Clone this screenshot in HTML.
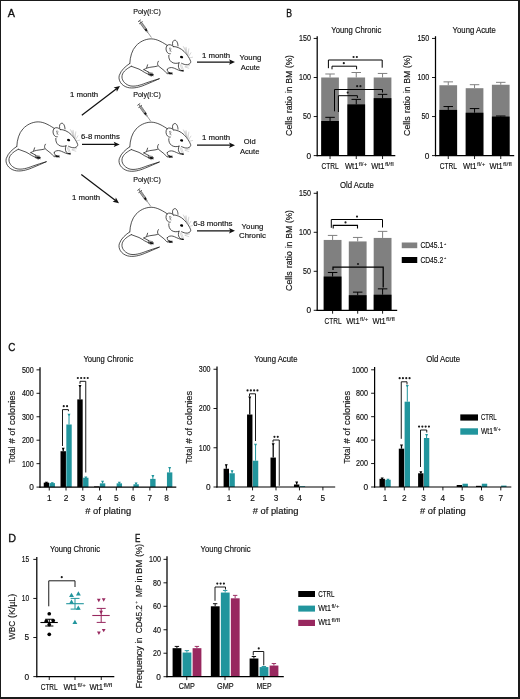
<!DOCTYPE html>
<html><head><meta charset="utf-8"><title>Figure</title>
<style>
html,body{margin:0;padding:0;background:#fff;}
body{width:520px;height:699px;overflow:hidden;position:relative;font-family:"Liberation Sans",sans-serif;}
svg{position:absolute;left:0;top:0;display:block;will-change:transform;font-family:"Liberation Sans",sans-serif;}
text{stroke:#111;stroke-width:0.16px;}
.bd{position:absolute;background:#1a1a1a;}
</style></head><body>
<svg width="520" height="699" viewBox="0 0 520 699">
<text x="7.8" y="16.9" font-size="11.3" textLength="7.2" lengthAdjust="spacingAndGlyphs" fill="#111" style="stroke-width:0.35px">A</text>
<text x="286.3" y="16.7" font-size="11.3" textLength="5.8" lengthAdjust="spacingAndGlyphs" fill="#111" style="stroke-width:0.35px">B</text>
<text x="8.3" y="351.0" font-size="11.3" textLength="7.1" lengthAdjust="spacingAndGlyphs" fill="#111" style="stroke-width:0.35px">C</text>
<text x="8.3" y="541.6" font-size="11.3" textLength="7.8" lengthAdjust="spacingAndGlyphs" fill="#111" style="stroke-width:0.35px">D</text>
<text x="135.1" y="541.5" font-size="11.3" textLength="5.4" lengthAdjust="spacingAndGlyphs" fill="#111" style="stroke-width:0.35px">E</text>
<defs>
<g id="mouse" fill="none" stroke="#151515" stroke-width="0.74" stroke-linecap="round" stroke-linejoin="round">
<path d="M16.8,146.5 C17,140 19,133 23,128.8 C27,124.5 32,122.3 37,121.9 C42,121.6 47,123.5 54.2,128.4"/>
<path d="M60.4,129.5 C58.5,127.4 55.5,127.2 54.2,128.4 C52.5,130 52.6,134 54.6,135.8 C55.5,136.7 56.5,137 57.3,136.8"/>
<path d="M59.7,128.2 C58.9,125.5 60,123.3 61.8,123.2 C63.6,123.1 65,126 65,128.9"/>
<path d="M60.4,129.5 C64,129.5 68,131.5 71,134.4 C74,137.5 76.5,141 77.7,144.4 C78,145.6 77,147.2 74.6,147.7 C72,148 70.3,147 68.6,146.3"/>
<path d="M55.8,138.4 C55.5,141 56.5,143.5 58.5,145 C60.5,146.5 63.5,146.8 66.2,145.8"/>
<path d="M65.9,146 C65.1,148 65.2,150.2 66.2,152 L68,153.5"/>
<path d="M54.2,152.3 C55.5,150.5 58,150.3 60,150.8 C62,151.3 64.5,153 67.5,153.8"/>
<path d="M45.4,144.2 C44.3,145.8 44.3,147.5 45.2,148.8 L51.5,153.8 C52.5,155 53,156 54.4,156.7"/>
<path d="M54.2,152.3 C54,154 55,155.3 56.6,155.6"/>
<path d="M30.8,152.6 C33,151.2 36,150.3 39,150 C41,149.8 43,149.5 44.4,149.1"/>
<path d="M34.6,147.8 L33.7,150.7"/>
<path d="M18.3,149.25 L26,152.1 C28,153 30,154.5 31.7,155.5 L35.6,157.4"/>
<path d="M30.8,152.6 L35.8,155.2"/>
<path d="M16.6,146.6 C13,149 8,153 6.3,158.4 C5,163 8,168.5 14.4,170.4 C20,172 27,170 31.7,168 C37,166 42,163.5 46.2,161.75"/>
<path d="M18.3,149.25 C15,151 10,154 9.1,158.4 C8.3,162.5 11,166.5 15.9,168.5 C21,170.3 28,168 32.7,166.1 C37,164.5 42,163 46.2,161.75"/>
<g stroke="#9a9a9a" stroke-width="0.4">
<path d="M74.2,138 L70.4,129.6 M74.6,138.3 L73.1,130.3 M75,138.8 L75.8,131.8 M75.6,139.6 L77.9,135.8 M76.3,141 L79.6,140.2 M74,137.5 L72,131"/>
<path d="M72.3,149.6 L76.6,148.6 M72,150 L75.8,151.2"/>
<path d="M67,147.3 L69.2,153 M68.5,147.7 L70.4,152.7"/>
</g>
<path d="M56.6,131.2 C57.6,130.6 58.6,131.4 58,132.4 L57,133.2 L58.3,134.4 M56.6,131.2 L57.2,134.4" stroke="#444" stroke-width="0.45"/>
<ellipse cx="68.6" cy="140.1" rx="1.6" ry="1.2" fill="#000" stroke="none" transform="rotate(15 68.6 140.1)"/>
<ellipse cx="69.3" cy="153.8" rx="1.7" ry="0.75" fill="#111" stroke="none" transform="rotate(8 69.3 153.8)"/>
<ellipse cx="57.4" cy="156.5" rx="2.1" ry="0.8" fill="#111" stroke="none" transform="rotate(-5 57.4 156.5)"/>
<ellipse cx="38.4" cy="157.7" rx="2.2" ry="0.95" fill="#111" stroke="none" transform="rotate(8 38.4 157.7)"/>
<path d="M35.2,155.4 L39.6,156.2 M35.4,156.3 L40.6,157.4 M35.4,157.2 L40.2,158.8 M35.2,157.6 L38.4,159.3" stroke-width="0.5"/>
<path d="M55,155.4 L59.4,155.8 M54.6,156.2 L59.6,157.2" stroke-width="0.5"/>
</g>

<g id="syr"><g transform="translate(139.3 20.2) rotate(54.46)">
<line x1="0.3" y1="-1.7" x2="0.3" y2="1.7" stroke="#333" stroke-width="0.75"/>
<line x1="0.3" y1="0" x2="3" y2="0" stroke="#444" stroke-width="0.6"/>
<line x1="2.7" y1="-2.1" x2="2.7" y2="2.1" stroke="#333" stroke-width="0.75"/>
<rect x="2.9" y="-0.95" width="8.2" height="1.9" fill="#c4c4c4" stroke="#3a3a3a" stroke-width="0.5"/>
<path d="M4.2,-0.9V0.9M5.4,-0.9V0.9M6.6,-0.9V0.9M7.8,-0.9V0.9M9,-0.9V0.9M10.2,-0.9V0.9" stroke="#555" stroke-width="0.4"/>
<rect x="10.6" y="-1.05" width="2.3" height="2.1" fill="#111"/>
<rect x="12.9" y="-0.55" width="1.6" height="1.1" fill="#999" stroke="#555" stroke-width="0.3"/>
<line x1="14.3" y1="0" x2="20.9" y2="0" stroke="#555" stroke-width="0.55"/>
</g></g>
</defs>
<use href="#mouse"/>
<use href="#mouse" transform="translate(113 -83.0)"/>
<use href="#mouse" transform="translate(113 0.3)"/>
<use href="#mouse" transform="translate(113 85.4)"/>
<use href="#syr" transform="translate(0 0.3)"/>
<text x="133.2" y="14.1" font-size="8.0" textLength="27.6" lengthAdjust="spacingAndGlyphs" fill="#111">Poly(I:C)</text>
<use href="#syr" transform="translate(-0.7 84.0)"/>
<text x="133.2" y="97.3" font-size="8.0" textLength="27.6" lengthAdjust="spacingAndGlyphs" fill="#111">Poly(I:C)</text>
<use href="#syr" transform="translate(-0.7 169.1)"/>
<text x="133.2" y="182.3" font-size="8.0" textLength="27.6" lengthAdjust="spacingAndGlyphs" fill="#111">Poly(I:C)</text>
<line x1="81.80" y1="115.30" x2="116.51" y2="88.68" stroke="#111" stroke-width="1.25" stroke-linecap="butt"/>
<polygon points="120.00,86.00 116.88,91.79 116.27,88.86 113.60,87.51" fill="#111"/>
<line x1="82.00" y1="144.40" x2="115.30" y2="144.40" stroke="#111" stroke-width="1.25" stroke-linecap="butt"/>
<polygon points="119.70,144.40 113.70,147.10 115.00,144.40 113.70,141.70" fill="#111"/>
<line x1="81.30" y1="174.50" x2="115.50" y2="200.53" stroke="#111" stroke-width="1.25" stroke-linecap="butt"/>
<polygon points="119.00,203.20 112.59,201.71 115.26,200.35 115.86,197.42" fill="#111"/>
<text x="70" y="96.9" font-size="8.0" textLength="28.2" lengthAdjust="spacingAndGlyphs" fill="#111">1 month</text>
<text x="81.0" y="139.2" font-size="8.0" textLength="38.8" lengthAdjust="spacingAndGlyphs" fill="#111">6-8 months</text>
<text x="72" y="200.4" font-size="8.0" textLength="28.2" lengthAdjust="spacingAndGlyphs" fill="#111">1 month</text>
<line x1="197.00" y1="62.00" x2="230.60" y2="62.00" stroke="#111" stroke-width="1.25" stroke-linecap="butt"/>
<polygon points="235.00,62.00 229.00,64.70 230.30,62.00 229.00,59.30" fill="#111"/>
<line x1="197.00" y1="145.20" x2="230.60" y2="145.20" stroke="#111" stroke-width="1.25" stroke-linecap="butt"/>
<polygon points="235.00,145.20 229.00,147.90 230.30,145.20 229.00,142.50" fill="#111"/>
<line x1="197.00" y1="230.80" x2="230.60" y2="230.80" stroke="#111" stroke-width="1.25" stroke-linecap="butt"/>
<polygon points="235.00,230.80 229.00,233.50 230.30,230.80 229.00,228.10" fill="#111"/>
<text x="202" y="58" font-size="8.0" textLength="28.2" lengthAdjust="spacingAndGlyphs" fill="#111">1 month</text>
<text x="202" y="139.6" font-size="8.0" textLength="28.2" lengthAdjust="spacingAndGlyphs" fill="#111">1 month</text>
<text x="193.3" y="225.5" font-size="8.0" textLength="39.2" lengthAdjust="spacingAndGlyphs" fill="#111">6-8 months</text>
<text x="250.4" y="59.5" font-size="8.0" text-anchor="middle" textLength="21.8" lengthAdjust="spacingAndGlyphs" fill="#111">Young</text>
<text x="250.4" y="69.7" font-size="8.0" text-anchor="middle" textLength="19.4" lengthAdjust="spacingAndGlyphs" fill="#111">Acute</text>
<text x="249.7" y="144.3" font-size="8.0" text-anchor="middle" textLength="11.8" lengthAdjust="spacingAndGlyphs" fill="#111">Old</text>
<text x="249.7" y="153.8" font-size="8.0" text-anchor="middle" textLength="19.4" lengthAdjust="spacingAndGlyphs" fill="#111">Acute</text>
<text x="252.5" y="228.6" font-size="8.0" text-anchor="middle" textLength="21.8" lengthAdjust="spacingAndGlyphs" fill="#111">Young</text>
<text x="252.5" y="238.4" font-size="8.0" text-anchor="middle" textLength="27" lengthAdjust="spacingAndGlyphs" fill="#111">Chronic</text>
<line x1="330.05" y1="77.50" x2="330.05" y2="73.99" stroke="#808080" stroke-width="1.0" stroke-linecap="butt"/>
<line x1="325.30" y1="73.99" x2="334.80" y2="73.99" stroke="#808080" stroke-width="1.0" stroke-linecap="butt"/>
<rect x="321.20" y="77.50" width="17.70" height="78.10" fill="#808080"/>
<rect x="321.20" y="121.00" width="17.70" height="34.60" fill="#000"/>
<line x1="330.05" y1="121.00" x2="330.05" y2="117.33" stroke="#000" stroke-width="1.0" stroke-linecap="butt"/>
<line x1="325.30" y1="117.33" x2="334.80" y2="117.33" stroke="#000" stroke-width="1.0" stroke-linecap="butt"/>
<line x1="330.05" y1="155.60" x2="330.05" y2="159.00" stroke="#000" stroke-width="0.9" stroke-linecap="butt"/>
<line x1="356.25" y1="77.50" x2="356.25" y2="72.50" stroke="#808080" stroke-width="1.0" stroke-linecap="butt"/>
<line x1="351.50" y1="72.50" x2="361.00" y2="72.50" stroke="#808080" stroke-width="1.0" stroke-linecap="butt"/>
<rect x="347.40" y="77.50" width="17.70" height="78.10" fill="#808080"/>
<rect x="347.40" y="104.37" width="17.70" height="51.23" fill="#000"/>
<line x1="356.25" y1="104.37" x2="356.25" y2="99.37" stroke="#000" stroke-width="1.0" stroke-linecap="butt"/>
<line x1="351.50" y1="99.37" x2="361.00" y2="99.37" stroke="#000" stroke-width="1.0" stroke-linecap="butt"/>
<line x1="356.25" y1="155.60" x2="356.25" y2="159.00" stroke="#000" stroke-width="0.9" stroke-linecap="butt"/>
<line x1="382.55" y1="77.50" x2="382.55" y2="73.44" stroke="#808080" stroke-width="1.0" stroke-linecap="butt"/>
<line x1="377.80" y1="73.44" x2="387.30" y2="73.44" stroke="#808080" stroke-width="1.0" stroke-linecap="butt"/>
<rect x="373.70" y="77.50" width="17.70" height="78.10" fill="#808080"/>
<rect x="373.70" y="98.12" width="17.70" height="57.48" fill="#000"/>
<line x1="382.55" y1="98.12" x2="382.55" y2="94.37" stroke="#000" stroke-width="1.0" stroke-linecap="butt"/>
<line x1="377.80" y1="94.37" x2="387.30" y2="94.37" stroke="#000" stroke-width="1.0" stroke-linecap="butt"/>
<line x1="382.55" y1="155.60" x2="382.55" y2="159.00" stroke="#000" stroke-width="0.9" stroke-linecap="butt"/>
<line x1="316.60" y1="155.60" x2="395.30" y2="155.60" stroke="#000" stroke-width="1.2" stroke-linecap="butt"/>
<line x1="317.20" y1="36.20" x2="317.20" y2="156.20" stroke="#000" stroke-width="1.25" stroke-linecap="butt"/>
<line x1="313.70" y1="38.45" x2="317.20" y2="38.45" stroke="#000" stroke-width="0.9" stroke-linecap="butt"/>
<text x="311.0" y="41.34999999999999" font-size="8.3" text-anchor="end" textLength="11.9" lengthAdjust="spacingAndGlyphs" fill="#111">150</text>
<line x1="313.70" y1="77.50" x2="317.20" y2="77.50" stroke="#000" stroke-width="0.9" stroke-linecap="butt"/>
<text x="311.0" y="80.4" font-size="8.3" text-anchor="end" textLength="11.9" lengthAdjust="spacingAndGlyphs" fill="#111">100</text>
<line x1="313.70" y1="116.55" x2="317.20" y2="116.55" stroke="#000" stroke-width="0.9" stroke-linecap="butt"/>
<text x="311.0" y="119.45" font-size="8.3" text-anchor="end" textLength="7.9" lengthAdjust="spacingAndGlyphs" fill="#111">50</text>
<line x1="313.70" y1="155.60" x2="317.20" y2="155.60" stroke="#000" stroke-width="0.9" stroke-linecap="butt"/>
<text x="311.0" y="158.5" font-size="8.3" text-anchor="end" fill="#111">0</text>
<text x="356.3" y="33.4" font-size="8.3" text-anchor="middle" textLength="50" lengthAdjust="spacingAndGlyphs" fill="#111">Young Chronic</text>
<text x="292.2" y="136.0" font-size="9.1" fill="#111" textLength="19.7" lengthAdjust="spacingAndGlyphs" transform="rotate(-90 292.2 136.0)">Cells</text>
<text x="292.2" y="113.1" font-size="9.1" fill="#111" textLength="16.8" lengthAdjust="spacingAndGlyphs" transform="rotate(-90 292.2 113.1)">ratio</text>
<text x="292.2" y="93.1" font-size="9.1" fill="#111" textLength="6.4" lengthAdjust="spacingAndGlyphs" transform="rotate(-90 292.2 93.1)">in</text>
<text x="292.2" y="83.7" font-size="9.1" fill="#111" textLength="13.1" lengthAdjust="spacingAndGlyphs" transform="rotate(-90 292.2 83.7)">BM</text>
<text x="292.2" y="68.0" font-size="9.1" fill="#111" textLength="12.9" lengthAdjust="spacingAndGlyphs" transform="rotate(-90 292.2 68.0)">(%)</text>
<text x="321.5" y="168.7" font-size="8.3" textLength="17.2" lengthAdjust="spacingAndGlyphs" fill="#111">CTRL</text>
<text x="344.9" y="168.7" font-size="8.3" fill="#111" textLength="13.5" lengthAdjust="spacingAndGlyphs">Wt1</text>
<text x="358.79999999999995" y="165.7" font-size="4.9" fill="#222" style="stroke-width:0.08px" textLength="8.37" lengthAdjust="spacingAndGlyphs">fl/+</text>
<text x="371.2" y="168.7" font-size="8.3" fill="#111" textLength="13.3" lengthAdjust="spacingAndGlyphs">Wt1</text>
<text x="384.9" y="165.7" font-size="4.9" fill="#222" style="stroke-width:0.08px" textLength="8.78" lengthAdjust="spacingAndGlyphs">fl/fl</text>
<polyline points="328.40,68.20 328.40,60.00 382.20,60.00 382.20,67.70" fill="none" stroke="#000" stroke-width="1.0" stroke-linejoin="miter"/>
<circle cx="353.55" cy="57.00" r="1.08" fill="#1a1a1a"/>
<circle cx="356.85" cy="57.00" r="1.08" fill="#1a1a1a"/>
<polyline points="332.00,69.30 332.00,66.20 356.60,66.20 356.60,69.30" fill="none" stroke="#000" stroke-width="1.0" stroke-linejoin="miter"/>
<circle cx="343.80" cy="63.20" r="1.08" fill="#1a1a1a"/>
<polyline points="334.50,111.30 334.50,89.50 382.50,89.50 382.50,92.50" fill="none" stroke="#000" stroke-width="1.0" stroke-linejoin="miter"/>
<circle cx="357.15" cy="86.20" r="1.08" fill="#1a1a1a"/>
<circle cx="360.45" cy="86.20" r="1.08" fill="#1a1a1a"/>
<polyline points="338.40,112.00 338.40,95.70 357.40,95.70 357.40,98.00" fill="none" stroke="#000" stroke-width="1.0" stroke-linejoin="miter"/>
<circle cx="347.70" cy="92.60" r="1.08" fill="#1a1a1a"/>
<line x1="448.25" y1="85.23" x2="448.25" y2="81.87" stroke="#808080" stroke-width="1.0" stroke-linecap="butt"/>
<line x1="443.50" y1="81.87" x2="453.00" y2="81.87" stroke="#808080" stroke-width="1.0" stroke-linecap="butt"/>
<rect x="439.40" y="85.23" width="17.70" height="70.37" fill="#808080"/>
<rect x="439.40" y="109.91" width="17.70" height="45.69" fill="#000"/>
<line x1="448.25" y1="109.91" x2="448.25" y2="106.55" stroke="#000" stroke-width="1.0" stroke-linecap="butt"/>
<line x1="443.50" y1="106.55" x2="453.00" y2="106.55" stroke="#000" stroke-width="1.0" stroke-linecap="butt"/>
<line x1="448.25" y1="155.60" x2="448.25" y2="159.00" stroke="#000" stroke-width="0.9" stroke-linecap="butt"/>
<line x1="474.55" y1="88.20" x2="474.55" y2="84.69" stroke="#808080" stroke-width="1.0" stroke-linecap="butt"/>
<line x1="469.80" y1="84.69" x2="479.30" y2="84.69" stroke="#808080" stroke-width="1.0" stroke-linecap="butt"/>
<rect x="465.70" y="88.20" width="17.70" height="67.40" fill="#808080"/>
<rect x="465.70" y="112.72" width="17.70" height="42.88" fill="#000"/>
<line x1="474.55" y1="112.72" x2="474.55" y2="108.58" stroke="#000" stroke-width="1.0" stroke-linecap="butt"/>
<line x1="469.80" y1="108.58" x2="479.30" y2="108.58" stroke="#000" stroke-width="1.0" stroke-linecap="butt"/>
<line x1="474.55" y1="155.60" x2="474.55" y2="159.00" stroke="#000" stroke-width="0.9" stroke-linecap="butt"/>
<line x1="500.75" y1="84.76" x2="500.75" y2="82.34" stroke="#808080" stroke-width="1.0" stroke-linecap="butt"/>
<line x1="496.00" y1="82.34" x2="505.50" y2="82.34" stroke="#808080" stroke-width="1.0" stroke-linecap="butt"/>
<rect x="491.90" y="84.76" width="17.70" height="70.84" fill="#808080"/>
<rect x="491.90" y="116.55" width="17.70" height="39.05" fill="#000"/>
<line x1="500.75" y1="116.55" x2="500.75" y2="116.00" stroke="#000" stroke-width="1.0" stroke-linecap="butt"/>
<line x1="496.00" y1="116.00" x2="505.50" y2="116.00" stroke="#000" stroke-width="1.0" stroke-linecap="butt"/>
<line x1="500.75" y1="155.60" x2="500.75" y2="159.00" stroke="#000" stroke-width="0.9" stroke-linecap="butt"/>
<line x1="434.90" y1="155.60" x2="514.20" y2="155.60" stroke="#000" stroke-width="1.2" stroke-linecap="butt"/>
<line x1="435.50" y1="36.20" x2="435.50" y2="156.20" stroke="#000" stroke-width="1.25" stroke-linecap="butt"/>
<line x1="432.00" y1="38.45" x2="435.50" y2="38.45" stroke="#000" stroke-width="0.9" stroke-linecap="butt"/>
<text x="429.3" y="41.34999999999999" font-size="8.3" text-anchor="end" textLength="11.9" lengthAdjust="spacingAndGlyphs" fill="#111">150</text>
<line x1="432.00" y1="77.50" x2="435.50" y2="77.50" stroke="#000" stroke-width="0.9" stroke-linecap="butt"/>
<text x="429.3" y="80.4" font-size="8.3" text-anchor="end" textLength="11.9" lengthAdjust="spacingAndGlyphs" fill="#111">100</text>
<line x1="432.00" y1="116.55" x2="435.50" y2="116.55" stroke="#000" stroke-width="0.9" stroke-linecap="butt"/>
<text x="429.3" y="119.45" font-size="8.3" text-anchor="end" textLength="7.9" lengthAdjust="spacingAndGlyphs" fill="#111">50</text>
<line x1="432.00" y1="155.60" x2="435.50" y2="155.60" stroke="#000" stroke-width="0.9" stroke-linecap="butt"/>
<text x="429.3" y="158.5" font-size="8.3" text-anchor="end" fill="#111">0</text>
<text x="474.2" y="33.4" font-size="8.3" text-anchor="middle" textLength="43.2" lengthAdjust="spacingAndGlyphs" fill="#111">Young Acute</text>
<text x="410.3" y="136.0" font-size="9.1" fill="#111" textLength="19.7" lengthAdjust="spacingAndGlyphs" transform="rotate(-90 410.3 136.0)">Cells</text>
<text x="410.3" y="113.1" font-size="9.1" fill="#111" textLength="16.8" lengthAdjust="spacingAndGlyphs" transform="rotate(-90 410.3 113.1)">ratio</text>
<text x="410.3" y="93.1" font-size="9.1" fill="#111" textLength="6.4" lengthAdjust="spacingAndGlyphs" transform="rotate(-90 410.3 93.1)">in</text>
<text x="410.3" y="83.7" font-size="9.1" fill="#111" textLength="13.1" lengthAdjust="spacingAndGlyphs" transform="rotate(-90 410.3 83.7)">BM</text>
<text x="410.3" y="68.0" font-size="9.1" fill="#111" textLength="12.9" lengthAdjust="spacingAndGlyphs" transform="rotate(-90 410.3 68.0)">(%)</text>
<text x="439.7" y="168.7" font-size="8.3" textLength="17.2" lengthAdjust="spacingAndGlyphs" fill="#111">CTRL</text>
<text x="463.1" y="168.7" font-size="8.3" fill="#111" textLength="13.5" lengthAdjust="spacingAndGlyphs">Wt1</text>
<text x="477.0" y="165.7" font-size="4.9" fill="#222" style="stroke-width:0.08px" textLength="8.37" lengthAdjust="spacingAndGlyphs">fl/+</text>
<text x="489.4" y="168.7" font-size="8.3" fill="#111" textLength="13.3" lengthAdjust="spacingAndGlyphs">Wt1</text>
<text x="503.09999999999997" y="165.7" font-size="4.9" fill="#222" style="stroke-width:0.08px" textLength="8.78" lengthAdjust="spacingAndGlyphs">fl/fl</text>
<line x1="332.60" y1="239.94" x2="332.60" y2="235.42" stroke="#808080" stroke-width="1.0" stroke-linecap="butt"/>
<line x1="327.85" y1="235.42" x2="337.35" y2="235.42" stroke="#808080" stroke-width="1.0" stroke-linecap="butt"/>
<rect x="323.70" y="239.94" width="17.80" height="70.36" fill="#808080"/>
<rect x="323.70" y="276.53" width="17.80" height="33.77" fill="#000"/>
<line x1="332.60" y1="276.53" x2="332.60" y2="272.47" stroke="#000" stroke-width="1.0" stroke-linecap="butt"/>
<line x1="327.85" y1="272.47" x2="337.35" y2="272.47" stroke="#000" stroke-width="1.0" stroke-linecap="butt"/>
<line x1="332.60" y1="310.30" x2="332.60" y2="313.70" stroke="#000" stroke-width="0.9" stroke-linecap="butt"/>
<line x1="357.70" y1="241.43" x2="357.70" y2="237.45" stroke="#808080" stroke-width="1.0" stroke-linecap="butt"/>
<line x1="352.95" y1="237.45" x2="362.45" y2="237.45" stroke="#808080" stroke-width="1.0" stroke-linecap="butt"/>
<rect x="348.80" y="241.43" width="17.80" height="68.87" fill="#808080"/>
<rect x="348.80" y="295.17" width="17.80" height="15.13" fill="#000"/>
<line x1="357.70" y1="295.17" x2="357.70" y2="292.13" stroke="#000" stroke-width="1.0" stroke-linecap="butt"/>
<line x1="352.95" y1="292.13" x2="362.45" y2="292.13" stroke="#000" stroke-width="1.0" stroke-linecap="butt"/>
<line x1="357.70" y1="310.30" x2="357.70" y2="313.70" stroke="#000" stroke-width="0.9" stroke-linecap="butt"/>
<line x1="382.60" y1="237.92" x2="382.60" y2="231.36" stroke="#808080" stroke-width="1.0" stroke-linecap="butt"/>
<line x1="377.85" y1="231.36" x2="387.35" y2="231.36" stroke="#808080" stroke-width="1.0" stroke-linecap="butt"/>
<rect x="373.70" y="237.92" width="17.80" height="72.38" fill="#808080"/>
<rect x="373.70" y="294.70" width="17.80" height="15.60" fill="#000"/>
<line x1="382.60" y1="294.70" x2="382.60" y2="288.85" stroke="#000" stroke-width="1.0" stroke-linecap="butt"/>
<line x1="377.85" y1="288.85" x2="387.35" y2="288.85" stroke="#000" stroke-width="1.0" stroke-linecap="butt"/>
<line x1="382.60" y1="310.30" x2="382.60" y2="313.70" stroke="#000" stroke-width="0.9" stroke-linecap="butt"/>
<line x1="316.60" y1="310.30" x2="397.20" y2="310.30" stroke="#000" stroke-width="1.2" stroke-linecap="butt"/>
<line x1="317.20" y1="191.20" x2="317.20" y2="310.90" stroke="#000" stroke-width="1.25" stroke-linecap="butt"/>
<line x1="313.70" y1="193.30" x2="317.20" y2="193.30" stroke="#000" stroke-width="0.9" stroke-linecap="butt"/>
<text x="311.0" y="196.20000000000002" font-size="8.3" text-anchor="end" textLength="11.9" lengthAdjust="spacingAndGlyphs" fill="#111">150</text>
<line x1="313.70" y1="232.30" x2="317.20" y2="232.30" stroke="#000" stroke-width="0.9" stroke-linecap="butt"/>
<text x="311.0" y="235.20000000000002" font-size="8.3" text-anchor="end" textLength="11.9" lengthAdjust="spacingAndGlyphs" fill="#111">100</text>
<line x1="313.70" y1="271.30" x2="317.20" y2="271.30" stroke="#000" stroke-width="0.9" stroke-linecap="butt"/>
<text x="311.0" y="274.2" font-size="8.3" text-anchor="end" textLength="7.9" lengthAdjust="spacingAndGlyphs" fill="#111">50</text>
<line x1="313.70" y1="310.30" x2="317.20" y2="310.30" stroke="#000" stroke-width="0.9" stroke-linecap="butt"/>
<text x="311.0" y="313.2" font-size="8.3" text-anchor="end" fill="#111">0</text>
<text x="356.9" y="188.4" font-size="8.3" text-anchor="middle" textLength="33.8" lengthAdjust="spacingAndGlyphs" fill="#111">Old Acute</text>
<text x="292.2" y="291.0" font-size="9.1" fill="#111" textLength="19.7" lengthAdjust="spacingAndGlyphs" transform="rotate(-90 292.2 291.0)">Cells</text>
<text x="292.2" y="268.1" font-size="9.1" fill="#111" textLength="16.8" lengthAdjust="spacingAndGlyphs" transform="rotate(-90 292.2 268.1)">ratio</text>
<text x="292.2" y="248.1" font-size="9.1" fill="#111" textLength="6.4" lengthAdjust="spacingAndGlyphs" transform="rotate(-90 292.2 248.1)">in</text>
<text x="292.2" y="238.7" font-size="9.1" fill="#111" textLength="13.1" lengthAdjust="spacingAndGlyphs" transform="rotate(-90 292.2 238.7)">BM</text>
<text x="292.2" y="223.0" font-size="9.1" fill="#111" textLength="12.9" lengthAdjust="spacingAndGlyphs" transform="rotate(-90 292.2 223.0)">(%)</text>
<text x="324.6" y="323.8" font-size="8.3" textLength="17.0" lengthAdjust="spacingAndGlyphs" fill="#111">CTRL</text>
<text x="346.2" y="323.8" font-size="8.3" fill="#111" textLength="13.5" lengthAdjust="spacingAndGlyphs">Wt1</text>
<text x="360.09999999999997" y="320.8" font-size="4.9" fill="#222" style="stroke-width:0.08px" textLength="8.37" lengthAdjust="spacingAndGlyphs">fl/+</text>
<text x="372.4" y="323.8" font-size="8.3" fill="#111" textLength="13.3" lengthAdjust="spacingAndGlyphs">Wt1</text>
<text x="386.09999999999997" y="320.8" font-size="4.9" fill="#222" style="stroke-width:0.08px" textLength="8.78" lengthAdjust="spacingAndGlyphs">fl/fl</text>
<polyline points="331.30,227.80 331.30,219.50 382.50,219.50 382.50,227.50" fill="none" stroke="#000" stroke-width="1.0" stroke-linejoin="miter"/>
<circle cx="357.00" cy="216.60" r="1.08" fill="#1a1a1a"/>
<polyline points="333.20,228.60 333.20,225.40 357.50,225.40 357.50,228.40" fill="none" stroke="#000" stroke-width="1.1" stroke-linejoin="miter"/>
<circle cx="345.50" cy="222.40" r="1.08" fill="#1a1a1a"/>
<polyline points="333.00,270.00 333.00,267.20 383.20,267.20 383.20,287.50" fill="none" stroke="#000" stroke-width="1.25" stroke-linejoin="miter"/>
<circle cx="358.00" cy="264.00" r="1.08" fill="#1a1a1a"/>
<rect x="401.75" y="242.50" width="15.50" height="5.70" fill="#808080"/>
<rect x="401.75" y="257.00" width="15.50" height="6.00" fill="#000"/>
<text x="420.4" y="248.0" font-size="8.3" textLength="22.8" lengthAdjust="spacingAndGlyphs" fill="#111">CD45.1</text>
<text x="444.0" y="244.6" font-size="3.9" fill="#111" style="stroke-width:0.05px">+</text>
<text x="420.4" y="262.6" font-size="8.3" textLength="22.8" lengthAdjust="spacingAndGlyphs" fill="#111">CD45.2</text>
<text x="444.0" y="259.2" font-size="3.9" fill="#111" style="stroke-width:0.05px">+</text>
<line x1="46.45" y1="482.64" x2="46.45" y2="482.18" stroke="#000" stroke-width="1.25" stroke-linecap="butt"/>
<polygon points="44.95,481.68 47.95,481.68 46.90,483.68 46.00,483.68" fill="#000"/>
<rect x="43.75" y="482.64" width="5.40" height="4.46" fill="#000"/>
<line x1="63.22" y1="451.22" x2="63.22" y2="448.17" stroke="#000" stroke-width="1.25" stroke-linecap="butt"/>
<polygon points="61.72,447.67 64.72,447.67 63.67,449.67 62.77,449.67" fill="#000"/>
<rect x="60.52" y="451.22" width="5.40" height="35.88" fill="#000"/>
<line x1="79.99" y1="399.40" x2="79.99" y2="385.56" stroke="#000" stroke-width="1.25" stroke-linecap="butt"/>
<polygon points="78.49,385.06 81.49,385.06 80.44,387.06 79.54,387.06" fill="#000"/>
<rect x="77.29" y="399.40" width="5.40" height="87.70" fill="#000"/>
<rect x="94.06" y="486.40" width="5.40" height="0.70" fill="#000"/>
<line x1="52.25" y1="483.11" x2="52.25" y2="482.64" stroke="#21959d" stroke-width="1.0" stroke-linecap="butt"/>
<polygon points="50.75,482.14 53.75,482.14 52.70,484.14 51.80,484.14" fill="#21959d"/>
<rect x="49.55" y="483.11" width="5.40" height="3.99" fill="#21959d"/>
<line x1="69.02" y1="424.49" x2="69.02" y2="414.17" stroke="#21959d" stroke-width="1.0" stroke-linecap="butt"/>
<polygon points="67.52,413.67 70.52,413.67 69.47,415.67 68.57,415.67" fill="#21959d"/>
<rect x="66.32" y="424.49" width="5.40" height="62.61" fill="#21959d"/>
<line x1="85.79" y1="477.72" x2="85.79" y2="477.02" stroke="#21959d" stroke-width="1.0" stroke-linecap="butt"/>
<polygon points="84.29,476.52 87.29,476.52 86.24,478.52 85.34,478.52" fill="#21959d"/>
<rect x="83.09" y="477.72" width="5.40" height="9.38" fill="#21959d"/>
<line x1="102.56" y1="483.35" x2="102.56" y2="481.24" stroke="#21959d" stroke-width="1.0" stroke-linecap="butt"/>
<polygon points="101.06,480.74 104.06,480.74 103.01,482.74 102.11,482.74" fill="#21959d"/>
<rect x="99.86" y="483.35" width="5.40" height="3.75" fill="#21959d"/>
<line x1="119.33" y1="483.35" x2="119.33" y2="482.18" stroke="#21959d" stroke-width="1.0" stroke-linecap="butt"/>
<polygon points="117.83,481.68 120.83,481.68 119.78,483.68 118.88,483.68" fill="#21959d"/>
<rect x="116.63" y="483.35" width="5.40" height="3.75" fill="#21959d"/>
<line x1="136.10" y1="484.29" x2="136.10" y2="482.88" stroke="#21959d" stroke-width="1.0" stroke-linecap="butt"/>
<polygon points="134.60,482.38 137.60,482.38 136.55,484.38 135.65,484.38" fill="#21959d"/>
<rect x="133.40" y="484.29" width="5.40" height="2.81" fill="#21959d"/>
<line x1="152.87" y1="478.89" x2="152.87" y2="475.38" stroke="#21959d" stroke-width="1.0" stroke-linecap="butt"/>
<polygon points="151.37,474.88 154.37,474.88 153.32,476.88 152.42,476.88" fill="#21959d"/>
<rect x="150.17" y="478.89" width="5.40" height="8.21" fill="#21959d"/>
<line x1="169.64" y1="472.40" x2="169.64" y2="467.40" stroke="#21959d" stroke-width="1.0" stroke-linecap="butt"/>
<polygon points="168.14,466.90 171.14,466.90 170.09,468.90 169.19,468.90" fill="#21959d"/>
<rect x="166.94" y="472.40" width="5.40" height="14.70" fill="#21959d"/>
<line x1="49.25" y1="487.10" x2="49.25" y2="490.50" stroke="#000" stroke-width="0.9" stroke-linecap="butt"/>
<line x1="66.02" y1="487.10" x2="66.02" y2="490.50" stroke="#000" stroke-width="0.9" stroke-linecap="butt"/>
<line x1="82.79" y1="487.10" x2="82.79" y2="490.50" stroke="#000" stroke-width="0.9" stroke-linecap="butt"/>
<line x1="99.56" y1="487.10" x2="99.56" y2="490.50" stroke="#000" stroke-width="0.9" stroke-linecap="butt"/>
<line x1="116.33" y1="487.10" x2="116.33" y2="490.50" stroke="#000" stroke-width="0.9" stroke-linecap="butt"/>
<line x1="133.10" y1="487.10" x2="133.10" y2="490.50" stroke="#000" stroke-width="0.9" stroke-linecap="butt"/>
<line x1="149.87" y1="487.10" x2="149.87" y2="490.50" stroke="#000" stroke-width="0.9" stroke-linecap="butt"/>
<line x1="166.64" y1="487.10" x2="166.64" y2="490.50" stroke="#000" stroke-width="0.9" stroke-linecap="butt"/>
<line x1="39.40" y1="487.10" x2="176.30" y2="487.10" stroke="#000" stroke-width="1.2" stroke-linecap="butt"/>
<line x1="40.00" y1="367.30" x2="40.00" y2="487.70" stroke="#000" stroke-width="1.25" stroke-linecap="butt"/>
<line x1="36.50" y1="369.85" x2="40.00" y2="369.85" stroke="#000" stroke-width="0.9" stroke-linecap="butt"/>
<text x="33.8" y="372.75" font-size="8.3" text-anchor="end" textLength="11.9" lengthAdjust="spacingAndGlyphs" fill="#111">500</text>
<line x1="36.50" y1="393.30" x2="40.00" y2="393.30" stroke="#000" stroke-width="0.9" stroke-linecap="butt"/>
<text x="33.8" y="396.2" font-size="8.3" text-anchor="end" textLength="11.9" lengthAdjust="spacingAndGlyphs" fill="#111">400</text>
<line x1="36.50" y1="416.75" x2="40.00" y2="416.75" stroke="#000" stroke-width="0.9" stroke-linecap="butt"/>
<text x="33.8" y="419.65" font-size="8.3" text-anchor="end" textLength="11.9" lengthAdjust="spacingAndGlyphs" fill="#111">300</text>
<line x1="36.50" y1="440.20" x2="40.00" y2="440.20" stroke="#000" stroke-width="0.9" stroke-linecap="butt"/>
<text x="33.8" y="443.1" font-size="8.3" text-anchor="end" textLength="11.9" lengthAdjust="spacingAndGlyphs" fill="#111">200</text>
<line x1="36.50" y1="463.65" x2="40.00" y2="463.65" stroke="#000" stroke-width="0.9" stroke-linecap="butt"/>
<text x="33.8" y="466.55" font-size="8.3" text-anchor="end" textLength="11.9" lengthAdjust="spacingAndGlyphs" fill="#111">100</text>
<line x1="36.50" y1="487.10" x2="40.00" y2="487.10" stroke="#000" stroke-width="0.9" stroke-linecap="butt"/>
<text x="33.8" y="490.0" font-size="8.3" text-anchor="end" fill="#111">0</text>
<text x="49.25" y="500.6" font-size="8.3" text-anchor="middle" fill="#111">1</text>
<text x="66.02" y="500.6" font-size="8.3" text-anchor="middle" fill="#111">2</text>
<text x="82.78999999999999" y="500.6" font-size="8.3" text-anchor="middle" fill="#111">3</text>
<text x="99.56" y="500.6" font-size="8.3" text-anchor="middle" fill="#111">4</text>
<text x="116.33" y="500.6" font-size="8.3" text-anchor="middle" fill="#111">5</text>
<text x="133.1" y="500.6" font-size="8.3" text-anchor="middle" fill="#111">6</text>
<text x="149.87" y="500.6" font-size="8.3" text-anchor="middle" fill="#111">7</text>
<text x="166.64" y="500.6" font-size="8.3" text-anchor="middle" fill="#111">8</text>
<text x="108.4" y="361.7" font-size="8.3" text-anchor="middle" textLength="50" lengthAdjust="spacingAndGlyphs" fill="#111">Young Chronic</text>
<text x="15.3" y="463.5" font-size="9.4" fill="#111" textLength="16.7" lengthAdjust="spacingAndGlyphs" transform="rotate(-90 15.3 463.5)">Total</text>
<text x="15.3" y="443.6" font-size="9.4" fill="#111" textLength="5.2" lengthAdjust="spacingAndGlyphs" transform="rotate(-90 15.3 443.6)">#</text>
<text x="15.3" y="435.5" font-size="9.4" fill="#111" textLength="7.4" lengthAdjust="spacingAndGlyphs" transform="rotate(-90 15.3 435.5)">of</text>
<text x="15.3" y="424.9" font-size="9.4" fill="#111" textLength="34.1" lengthAdjust="spacingAndGlyphs" transform="rotate(-90 15.3 424.9)">colonies</text>
<text x="108.2" y="514.0" font-size="9.0" text-anchor="middle" textLength="45.8" lengthAdjust="spacingAndGlyphs" fill="#111"># of plating</text>
<polyline points="62.50,446.00 62.50,409.60 68.40,409.60 68.40,411.20" fill="none" stroke="#000" stroke-width="0.9" stroke-linejoin="miter"/>
<circle cx="63.75" cy="406.20" r="1.08" fill="#1a1a1a"/>
<circle cx="67.05" cy="406.20" r="1.08" fill="#1a1a1a"/>
<polyline points="80.00,383.80 80.00,381.30 85.75,381.30 85.75,472.50" fill="none" stroke="#000" stroke-width="0.9" stroke-linejoin="miter"/>
<circle cx="77.85" cy="378.00" r="1.08" fill="#1a1a1a"/>
<circle cx="81.15" cy="378.00" r="1.08" fill="#1a1a1a"/>
<circle cx="84.45" cy="378.00" r="1.08" fill="#1a1a1a"/>
<circle cx="87.75" cy="378.00" r="1.08" fill="#1a1a1a"/>
<line x1="226.30" y1="468.75" x2="226.30" y2="464.63" stroke="#000" stroke-width="1.25" stroke-linecap="butt"/>
<polygon points="224.80,464.13 227.80,464.13 226.75,466.13 225.85,466.13" fill="#000"/>
<rect x="223.60" y="468.75" width="5.40" height="18.25" fill="#000"/>
<line x1="249.75" y1="414.51" x2="249.75" y2="397.12" stroke="#000" stroke-width="1.25" stroke-linecap="butt"/>
<polygon points="248.25,396.62 251.25,396.62 250.20,398.62 249.30,398.62" fill="#000"/>
<rect x="247.05" y="414.51" width="5.40" height="72.49" fill="#000"/>
<line x1="273.20" y1="457.56" x2="273.20" y2="443.63" stroke="#000" stroke-width="1.25" stroke-linecap="butt"/>
<polygon points="271.70,443.13 274.70,443.13 273.65,445.13 272.75,445.13" fill="#000"/>
<rect x="270.50" y="457.56" width="5.40" height="29.44" fill="#000"/>
<line x1="296.65" y1="484.49" x2="296.65" y2="481.90" stroke="#000" stroke-width="1.25" stroke-linecap="butt"/>
<polygon points="295.15,481.40 298.15,481.40 297.10,483.40 296.20,483.40" fill="#000"/>
<rect x="293.95" y="484.49" width="5.40" height="2.51" fill="#000"/>
<line x1="232.10" y1="473.26" x2="232.10" y2="470.71" stroke="#21959d" stroke-width="1.0" stroke-linecap="butt"/>
<polygon points="230.60,470.21 233.60,470.21 232.55,472.21 231.65,472.21" fill="#21959d"/>
<rect x="229.40" y="473.26" width="5.40" height="13.74" fill="#21959d"/>
<line x1="255.55" y1="460.70" x2="255.55" y2="444.22" stroke="#21959d" stroke-width="1.0" stroke-linecap="butt"/>
<polygon points="254.05,443.72 257.05,443.72 256.00,445.72 255.10,445.72" fill="#21959d"/>
<rect x="252.85" y="460.70" width="5.40" height="26.30" fill="#21959d"/>
<rect x="299.75" y="486.21" width="5.40" height="0.79" fill="#21959d"/>
<line x1="229.10" y1="487.00" x2="229.10" y2="490.40" stroke="#000" stroke-width="0.9" stroke-linecap="butt"/>
<line x1="252.55" y1="487.00" x2="252.55" y2="490.40" stroke="#000" stroke-width="0.9" stroke-linecap="butt"/>
<line x1="276.00" y1="487.00" x2="276.00" y2="490.40" stroke="#000" stroke-width="0.9" stroke-linecap="butt"/>
<line x1="299.45" y1="487.00" x2="299.45" y2="490.40" stroke="#000" stroke-width="0.9" stroke-linecap="butt"/>
<line x1="322.90" y1="487.00" x2="322.90" y2="490.40" stroke="#000" stroke-width="0.9" stroke-linecap="butt"/>
<line x1="216.40" y1="487.00" x2="335.20" y2="487.00" stroke="#000" stroke-width="1.2" stroke-linecap="butt"/>
<line x1="217.00" y1="366.60" x2="217.00" y2="487.60" stroke="#000" stroke-width="1.25" stroke-linecap="butt"/>
<line x1="213.50" y1="369.25" x2="217.00" y2="369.25" stroke="#000" stroke-width="0.9" stroke-linecap="butt"/>
<text x="210.6" y="372.15" font-size="8.3" text-anchor="end" textLength="11.9" lengthAdjust="spacingAndGlyphs" fill="#111">300</text>
<line x1="213.50" y1="408.50" x2="217.00" y2="408.50" stroke="#000" stroke-width="0.9" stroke-linecap="butt"/>
<text x="210.6" y="411.4" font-size="8.3" text-anchor="end" textLength="11.9" lengthAdjust="spacingAndGlyphs" fill="#111">200</text>
<line x1="213.50" y1="447.75" x2="217.00" y2="447.75" stroke="#000" stroke-width="0.9" stroke-linecap="butt"/>
<text x="210.6" y="450.65" font-size="8.3" text-anchor="end" textLength="11.9" lengthAdjust="spacingAndGlyphs" fill="#111">100</text>
<line x1="213.50" y1="487.00" x2="217.00" y2="487.00" stroke="#000" stroke-width="0.9" stroke-linecap="butt"/>
<text x="210.6" y="489.9" font-size="8.3" text-anchor="end" fill="#111">0</text>
<text x="229.1" y="500.5" font-size="8.3" text-anchor="middle" fill="#111">1</text>
<text x="252.54999999999998" y="500.5" font-size="8.3" text-anchor="middle" fill="#111">2</text>
<text x="276.0" y="500.5" font-size="8.3" text-anchor="middle" fill="#111">3</text>
<text x="299.45" y="500.5" font-size="8.3" text-anchor="middle" fill="#111">4</text>
<text x="322.9" y="500.5" font-size="8.3" text-anchor="middle" fill="#111">5</text>
<text x="275.9" y="361.7" font-size="8.3" text-anchor="middle" textLength="43.2" lengthAdjust="spacingAndGlyphs" fill="#111">Young Acute</text>
<text x="192.1" y="463.5" font-size="9.4" fill="#111" textLength="16.7" lengthAdjust="spacingAndGlyphs" transform="rotate(-90 192.1 463.5)">Total</text>
<text x="192.1" y="443.6" font-size="9.4" fill="#111" textLength="5.2" lengthAdjust="spacingAndGlyphs" transform="rotate(-90 192.1 443.6)">#</text>
<text x="192.1" y="435.5" font-size="9.4" fill="#111" textLength="7.4" lengthAdjust="spacingAndGlyphs" transform="rotate(-90 192.1 435.5)">of</text>
<text x="192.1" y="424.9" font-size="9.4" fill="#111" textLength="34.1" lengthAdjust="spacingAndGlyphs" transform="rotate(-90 192.1 424.9)">colonies</text>
<text x="275.6" y="514.0" font-size="9.0" text-anchor="middle" textLength="45.8" lengthAdjust="spacingAndGlyphs" fill="#111"># of plating</text>
<polyline points="249.50,396.30 249.50,393.80 255.50,393.80 255.50,441.00" fill="none" stroke="#000" stroke-width="0.9" stroke-linejoin="miter"/>
<circle cx="247.55" cy="390.40" r="1.08" fill="#1a1a1a"/>
<circle cx="250.85" cy="390.40" r="1.08" fill="#1a1a1a"/>
<circle cx="254.15" cy="390.40" r="1.08" fill="#1a1a1a"/>
<circle cx="257.45" cy="390.40" r="1.08" fill="#1a1a1a"/>
<polyline points="273.00,442.50 273.00,440.00 279.25,440.00 279.25,485.80" fill="none" stroke="#000" stroke-width="0.9" stroke-linejoin="miter"/>
<circle cx="274.45" cy="436.80" r="1.08" fill="#1a1a1a"/>
<circle cx="277.75" cy="436.80" r="1.08" fill="#1a1a1a"/>
<line x1="382.20" y1="478.80" x2="382.20" y2="478.09" stroke="#000" stroke-width="1.25" stroke-linecap="butt"/>
<polygon points="380.70,477.59 383.70,477.59 382.65,479.59 381.75,479.59" fill="#000"/>
<rect x="379.50" y="478.80" width="5.40" height="8.20" fill="#000"/>
<line x1="401.50" y1="448.68" x2="401.50" y2="445.04" stroke="#000" stroke-width="1.25" stroke-linecap="butt"/>
<polygon points="400.00,444.54 403.00,444.54 401.95,446.54 401.05,446.54" fill="#000"/>
<rect x="398.80" y="448.68" width="5.40" height="38.32" fill="#000"/>
<line x1="420.80" y1="473.29" x2="420.80" y2="471.76" stroke="#000" stroke-width="1.25" stroke-linecap="butt"/>
<polygon points="419.30,471.26 422.30,471.26 421.25,473.26 420.35,473.26" fill="#000"/>
<rect x="418.10" y="473.29" width="5.40" height="13.71" fill="#000"/>
<rect x="456.70" y="485.01" width="5.40" height="1.99" fill="#000"/>
<rect x="476.00" y="485.83" width="5.40" height="1.17" fill="#000"/>
<line x1="388.00" y1="479.73" x2="388.00" y2="479.26" stroke="#21959d" stroke-width="1.0" stroke-linecap="butt"/>
<polygon points="386.50,478.76 389.50,478.76 388.45,480.76 387.55,480.76" fill="#21959d"/>
<rect x="385.30" y="479.73" width="5.40" height="7.27" fill="#21959d"/>
<line x1="407.30" y1="401.68" x2="407.30" y2="385.50" stroke="#21959d" stroke-width="1.0" stroke-linecap="butt"/>
<polygon points="405.80,385.00 408.80,385.00 407.75,387.00 406.85,387.00" fill="#21959d"/>
<rect x="404.60" y="401.68" width="5.40" height="85.32" fill="#21959d"/>
<line x1="426.60" y1="438.01" x2="426.60" y2="434.49" stroke="#21959d" stroke-width="1.0" stroke-linecap="butt"/>
<polygon points="425.10,433.99 428.10,433.99 427.05,435.99 426.15,435.99" fill="#21959d"/>
<rect x="423.90" y="438.01" width="5.40" height="48.99" fill="#21959d"/>
<rect x="462.50" y="483.72" width="5.40" height="3.28" fill="#21959d"/>
<rect x="481.80" y="483.72" width="5.40" height="3.28" fill="#21959d"/>
<rect x="501.10" y="485.59" width="5.40" height="1.41" fill="#21959d"/>
<line x1="385.00" y1="487.00" x2="385.00" y2="490.40" stroke="#000" stroke-width="0.9" stroke-linecap="butt"/>
<line x1="404.30" y1="487.00" x2="404.30" y2="490.40" stroke="#000" stroke-width="0.9" stroke-linecap="butt"/>
<line x1="423.60" y1="487.00" x2="423.60" y2="490.40" stroke="#000" stroke-width="0.9" stroke-linecap="butt"/>
<line x1="442.90" y1="487.00" x2="442.90" y2="490.40" stroke="#000" stroke-width="0.9" stroke-linecap="butt"/>
<line x1="462.20" y1="487.00" x2="462.20" y2="490.40" stroke="#000" stroke-width="0.9" stroke-linecap="butt"/>
<line x1="481.50" y1="487.00" x2="481.50" y2="490.40" stroke="#000" stroke-width="0.9" stroke-linecap="butt"/>
<line x1="500.80" y1="487.00" x2="500.80" y2="490.40" stroke="#000" stroke-width="0.9" stroke-linecap="butt"/>
<line x1="374.00" y1="487.00" x2="511.30" y2="487.00" stroke="#000" stroke-width="1.2" stroke-linecap="butt"/>
<line x1="374.60" y1="367.00" x2="374.60" y2="487.60" stroke="#000" stroke-width="1.25" stroke-linecap="butt"/>
<line x1="371.10" y1="369.80" x2="374.60" y2="369.80" stroke="#000" stroke-width="0.9" stroke-linecap="butt"/>
<text x="368.0" y="372.7" font-size="8.3" text-anchor="end" textLength="16.0" lengthAdjust="spacingAndGlyphs" fill="#111">1000</text>
<line x1="371.10" y1="393.24" x2="374.60" y2="393.24" stroke="#000" stroke-width="0.9" stroke-linecap="butt"/>
<text x="368.0" y="396.14" font-size="8.3" text-anchor="end" textLength="11.9" lengthAdjust="spacingAndGlyphs" fill="#111">800</text>
<line x1="371.10" y1="416.68" x2="374.60" y2="416.68" stroke="#000" stroke-width="0.9" stroke-linecap="butt"/>
<text x="368.0" y="419.58" font-size="8.3" text-anchor="end" textLength="11.9" lengthAdjust="spacingAndGlyphs" fill="#111">600</text>
<line x1="371.10" y1="440.12" x2="374.60" y2="440.12" stroke="#000" stroke-width="0.9" stroke-linecap="butt"/>
<text x="368.0" y="443.02" font-size="8.3" text-anchor="end" textLength="11.9" lengthAdjust="spacingAndGlyphs" fill="#111">400</text>
<line x1="371.10" y1="463.56" x2="374.60" y2="463.56" stroke="#000" stroke-width="0.9" stroke-linecap="butt"/>
<text x="368.0" y="466.46" font-size="8.3" text-anchor="end" textLength="11.9" lengthAdjust="spacingAndGlyphs" fill="#111">200</text>
<line x1="371.10" y1="487.00" x2="374.60" y2="487.00" stroke="#000" stroke-width="0.9" stroke-linecap="butt"/>
<text x="368.0" y="489.9" font-size="8.3" text-anchor="end" fill="#111">0</text>
<text x="385.0" y="500.5" font-size="8.3" text-anchor="middle" fill="#111">1</text>
<text x="404.3" y="500.5" font-size="8.3" text-anchor="middle" fill="#111">2</text>
<text x="423.6" y="500.5" font-size="8.3" text-anchor="middle" fill="#111">3</text>
<text x="442.9" y="500.5" font-size="8.3" text-anchor="middle" fill="#111">4</text>
<text x="462.2" y="500.5" font-size="8.3" text-anchor="middle" fill="#111">5</text>
<text x="481.5" y="500.5" font-size="8.3" text-anchor="middle" fill="#111">6</text>
<text x="500.8" y="500.5" font-size="8.3" text-anchor="middle" fill="#111">7</text>
<text x="443.1" y="361.7" font-size="8.3" text-anchor="middle" textLength="33.8" lengthAdjust="spacingAndGlyphs" fill="#111">Old Acute</text>
<text x="349.8" y="463.5" font-size="9.4" fill="#111" textLength="16.7" lengthAdjust="spacingAndGlyphs" transform="rotate(-90 349.8 463.5)">Total</text>
<text x="349.8" y="443.6" font-size="9.4" fill="#111" textLength="5.2" lengthAdjust="spacingAndGlyphs" transform="rotate(-90 349.8 443.6)">#</text>
<text x="349.8" y="435.5" font-size="9.4" fill="#111" textLength="7.4" lengthAdjust="spacingAndGlyphs" transform="rotate(-90 349.8 435.5)">of</text>
<text x="349.8" y="424.9" font-size="9.4" fill="#111" textLength="34.1" lengthAdjust="spacingAndGlyphs" transform="rotate(-90 349.8 424.9)">colonies</text>
<text x="442.9" y="514.0" font-size="9.0" text-anchor="middle" textLength="45.8" lengthAdjust="spacingAndGlyphs" fill="#111"># of plating</text>
<polyline points="401.25,438.80 401.25,381.80 407.00,381.80 407.00,384.50" fill="none" stroke="#000" stroke-width="0.9" stroke-linejoin="miter"/>
<circle cx="399.65" cy="378.20" r="1.08" fill="#1a1a1a"/>
<circle cx="402.95" cy="378.20" r="1.08" fill="#1a1a1a"/>
<circle cx="406.25" cy="378.20" r="1.08" fill="#1a1a1a"/>
<circle cx="409.55" cy="378.20" r="1.08" fill="#1a1a1a"/>
<polyline points="420.50,467.00 420.50,430.00 426.75,430.00 426.75,432.50" fill="none" stroke="#000" stroke-width="0.9" stroke-linejoin="miter"/>
<circle cx="419.05" cy="426.60" r="1.08" fill="#1a1a1a"/>
<circle cx="422.35" cy="426.60" r="1.08" fill="#1a1a1a"/>
<circle cx="425.65" cy="426.60" r="1.08" fill="#1a1a1a"/>
<circle cx="428.95" cy="426.60" r="1.08" fill="#1a1a1a"/>
<rect x="460.30" y="414.40" width="17.70" height="6.20" fill="#000"/>
<rect x="460.30" y="428.30" width="17.70" height="6.40" fill="#21959d"/>
<text x="481.0" y="420.0" font-size="8.3" textLength="15.6" lengthAdjust="spacingAndGlyphs" fill="#111">CTRL</text>
<text x="481.0" y="433.8" font-size="8.3" fill="#111" textLength="12.0" lengthAdjust="spacingAndGlyphs">Wt1</text>
<text x="493.4" y="430.8" font-size="4.9" fill="#222" style="stroke-width:0.08px" textLength="7.44" lengthAdjust="spacingAndGlyphs">fl/+</text>
<line x1="36.20" y1="676.60" x2="114.30" y2="676.60" stroke="#000" stroke-width="1.2" stroke-linecap="butt"/>
<line x1="36.80" y1="557.00" x2="36.80" y2="677.20" stroke="#000" stroke-width="1.25" stroke-linecap="butt"/>
<line x1="33.30" y1="559.38" x2="36.80" y2="559.38" stroke="#000" stroke-width="0.9" stroke-linecap="butt"/>
<text x="29.2" y="562.275" font-size="8.3" text-anchor="end" textLength="7.4" lengthAdjust="spacingAndGlyphs" fill="#111">15</text>
<line x1="33.30" y1="598.45" x2="36.80" y2="598.45" stroke="#000" stroke-width="0.9" stroke-linecap="butt"/>
<text x="29.2" y="601.35" font-size="8.3" text-anchor="end" textLength="7.4" lengthAdjust="spacingAndGlyphs" fill="#111">10</text>
<line x1="33.30" y1="637.52" x2="36.80" y2="637.52" stroke="#000" stroke-width="0.9" stroke-linecap="butt"/>
<text x="29.2" y="640.425" font-size="8.3" text-anchor="end" fill="#111">5</text>
<line x1="33.30" y1="676.60" x2="36.80" y2="676.60" stroke="#000" stroke-width="0.9" stroke-linecap="butt"/>
<text x="29.2" y="679.5" font-size="8.3" text-anchor="end" fill="#111">0</text>
<line x1="49.25" y1="676.60" x2="49.25" y2="680.00" stroke="#000" stroke-width="0.9" stroke-linecap="butt"/>
<line x1="75.00" y1="676.60" x2="75.00" y2="680.00" stroke="#000" stroke-width="0.9" stroke-linecap="butt"/>
<line x1="101.25" y1="676.60" x2="101.25" y2="680.00" stroke="#000" stroke-width="0.9" stroke-linecap="butt"/>
<text x="75.0" y="551.7" font-size="8.3" text-anchor="middle" textLength="50" lengthAdjust="spacingAndGlyphs" fill="#111">Young Chronic</text>
<text x="14.9" y="639.9" font-size="9.3" fill="#111" textLength="19.1" lengthAdjust="spacingAndGlyphs" transform="rotate(-90 14.9 639.9)">WBC</text>
<text x="14.9" y="618.0" font-size="9.3" fill="#111" textLength="24.2" lengthAdjust="spacingAndGlyphs" transform="rotate(-90 14.9 618.0)">(K/µL)</text>
<text x="40.7" y="689.8" font-size="8.3" textLength="17.0" lengthAdjust="spacingAndGlyphs" fill="#111">CTRL</text>
<text x="63.4" y="689.8" font-size="8.3" fill="#111" textLength="13.7" lengthAdjust="spacingAndGlyphs">Wt1</text>
<text x="77.5" y="686.8" font-size="4.9" fill="#222" style="stroke-width:0.08px" textLength="8.49" lengthAdjust="spacingAndGlyphs">fl/+</text>
<text x="89.4" y="689.8" font-size="8.3" fill="#111" textLength="13.6" lengthAdjust="spacingAndGlyphs">Wt1</text>
<text x="103.4" y="686.8" font-size="4.9" fill="#222" style="stroke-width:0.08px" textLength="8.98" lengthAdjust="spacingAndGlyphs">fl/fl</text>
<circle cx="49.25" cy="613.75" r="1.85" fill="#000"/>
<circle cx="46.3" cy="621.2" r="1.85" fill="#000"/>
<circle cx="53.2" cy="620.6" r="1.85" fill="#000"/>
<circle cx="49.25" cy="624.6" r="1.85" fill="#000"/>
<circle cx="49.25" cy="634.3" r="1.85" fill="#000"/>
<line x1="40.40" y1="622.50" x2="57.80" y2="622.50" stroke="#000" stroke-width="1.1" stroke-linecap="butt"/>
<line x1="49.30" y1="619.25" x2="49.30" y2="626.00" stroke="#000" stroke-width="1.0" stroke-linecap="butt"/>
<line x1="45.20" y1="619.25" x2="53.40" y2="619.25" stroke="#000" stroke-width="1.0" stroke-linecap="butt"/>
<line x1="45.20" y1="626.00" x2="53.40" y2="626.00" stroke="#000" stroke-width="1.0" stroke-linecap="butt"/>
<polygon points="71.5,592.7 73.95,597.0 69.05,597.0" fill="#21959d"/>
<polygon points="78.4,591.3 80.85000000000001,595.5999999999999 75.95,595.5999999999999" fill="#21959d"/>
<polygon points="71.5,599.4 73.95,603.6999999999999 69.05,603.6999999999999" fill="#21959d"/>
<polygon points="78.3,605.5 80.75,609.8 75.85,609.8" fill="#21959d"/>
<polygon points="74.9,619.7 77.35000000000001,624.0 72.45,624.0" fill="#21959d"/>
<line x1="66.20" y1="603.70" x2="83.80" y2="603.70" stroke="#21959d" stroke-width="1.1" stroke-linecap="butt"/>
<line x1="75.00" y1="598.40" x2="75.00" y2="609.10" stroke="#21959d" stroke-width="1.0" stroke-linecap="butt"/>
<line x1="70.60" y1="598.40" x2="79.50" y2="598.40" stroke="#21959d" stroke-width="1.0" stroke-linecap="butt"/>
<line x1="70.60" y1="609.10" x2="79.50" y2="609.10" stroke="#21959d" stroke-width="1.0" stroke-linecap="butt"/>
<polygon points="98.8,602.1999999999999 100.7,598.8 96.89999999999999,598.8" fill="#98285f"/>
<polygon points="103.7,601.6999999999999 105.60000000000001,598.3 101.8,598.3" fill="#98285f"/>
<polygon points="101.1,614.1999999999999 103.0,610.8 99.19999999999999,610.8" fill="#98285f"/>
<polygon points="103.7,632.3 105.60000000000001,628.9 101.8,628.9" fill="#98285f"/>
<polygon points="98.9,635.0 100.80000000000001,631.6 97.0,631.6" fill="#98285f"/>
<line x1="92.30" y1="615.50" x2="109.70" y2="615.50" stroke="#98285f" stroke-width="1.1" stroke-linecap="butt"/>
<line x1="101.20" y1="608.40" x2="101.20" y2="622.40" stroke="#98285f" stroke-width="1.0" stroke-linecap="butt"/>
<line x1="96.70" y1="608.40" x2="105.70" y2="608.40" stroke="#98285f" stroke-width="1.0" stroke-linecap="butt"/>
<line x1="96.70" y1="622.40" x2="105.70" y2="622.40" stroke="#98285f" stroke-width="1.0" stroke-linecap="butt"/>
<polyline points="48.75,606.30 48.75,580.80 75.00,580.80 75.00,587.00" fill="none" stroke="#000" stroke-width="0.9" stroke-linejoin="miter"/>
<circle cx="61.75" cy="577.20" r="1.08" fill="#1a1a1a"/>
<line x1="176.90" y1="648.18" x2="176.90" y2="646.42" stroke="#000" stroke-width="0.95" stroke-linecap="butt"/>
<line x1="174.70" y1="646.42" x2="179.10" y2="646.42" stroke="#000" stroke-width="0.95" stroke-linecap="butt"/>
<rect x="172.60" y="648.18" width="8.80" height="28.52" fill="#000"/>
<line x1="186.90" y1="652.53" x2="186.90" y2="650.65" stroke="#21959d" stroke-width="0.95" stroke-linecap="butt"/>
<line x1="184.70" y1="650.65" x2="189.10" y2="650.65" stroke="#21959d" stroke-width="0.95" stroke-linecap="butt"/>
<rect x="182.60" y="652.53" width="8.80" height="24.17" fill="#21959d"/>
<line x1="196.90" y1="648.18" x2="196.90" y2="646.42" stroke="#98285f" stroke-width="0.95" stroke-linecap="butt"/>
<line x1="194.70" y1="646.42" x2="199.10" y2="646.42" stroke="#98285f" stroke-width="0.95" stroke-linecap="butt"/>
<rect x="192.60" y="648.18" width="8.80" height="28.52" fill="#98285f"/>
<line x1="215.15" y1="606.29" x2="215.15" y2="603.71" stroke="#000" stroke-width="0.95" stroke-linecap="butt"/>
<line x1="212.95" y1="603.71" x2="217.35" y2="603.71" stroke="#000" stroke-width="0.95" stroke-linecap="butt"/>
<rect x="210.85" y="606.29" width="8.80" height="70.41" fill="#000"/>
<line x1="225.15" y1="592.56" x2="225.15" y2="590.45" stroke="#21959d" stroke-width="0.95" stroke-linecap="butt"/>
<line x1="222.95" y1="590.45" x2="227.35" y2="590.45" stroke="#21959d" stroke-width="0.95" stroke-linecap="butt"/>
<rect x="220.85" y="592.56" width="8.80" height="84.14" fill="#21959d"/>
<line x1="235.15" y1="598.31" x2="235.15" y2="595.38" stroke="#98285f" stroke-width="0.95" stroke-linecap="butt"/>
<line x1="232.95" y1="595.38" x2="237.35" y2="595.38" stroke="#98285f" stroke-width="0.95" stroke-linecap="butt"/>
<rect x="230.85" y="598.31" width="8.80" height="78.39" fill="#98285f"/>
<line x1="253.90" y1="658.51" x2="253.90" y2="656.52" stroke="#000" stroke-width="0.95" stroke-linecap="butt"/>
<line x1="251.70" y1="656.52" x2="256.10" y2="656.52" stroke="#000" stroke-width="0.95" stroke-linecap="butt"/>
<rect x="249.60" y="658.51" width="8.80" height="18.19" fill="#000"/>
<line x1="263.90" y1="667.08" x2="263.90" y2="666.49" stroke="#21959d" stroke-width="0.95" stroke-linecap="butt"/>
<line x1="261.70" y1="666.49" x2="266.10" y2="666.49" stroke="#21959d" stroke-width="0.95" stroke-linecap="butt"/>
<rect x="259.60" y="667.08" width="8.80" height="9.62" fill="#21959d"/>
<line x1="273.90" y1="665.55" x2="273.90" y2="663.56" stroke="#98285f" stroke-width="0.95" stroke-linecap="butt"/>
<line x1="271.70" y1="663.56" x2="276.10" y2="663.56" stroke="#98285f" stroke-width="0.95" stroke-linecap="butt"/>
<rect x="269.60" y="665.55" width="8.80" height="11.15" fill="#98285f"/>
<line x1="186.75" y1="676.70" x2="186.75" y2="680.10" stroke="#000" stroke-width="0.9" stroke-linecap="butt"/>
<line x1="225.00" y1="676.70" x2="225.00" y2="680.10" stroke="#000" stroke-width="0.9" stroke-linecap="butt"/>
<line x1="263.75" y1="676.70" x2="263.75" y2="680.10" stroke="#000" stroke-width="0.9" stroke-linecap="butt"/>
<line x1="166.40" y1="676.70" x2="283.80" y2="676.70" stroke="#000" stroke-width="1.2" stroke-linecap="butt"/>
<line x1="167.00" y1="556.20" x2="167.00" y2="677.30" stroke="#000" stroke-width="1.25" stroke-linecap="butt"/>
<line x1="163.50" y1="559.35" x2="167.00" y2="559.35" stroke="#000" stroke-width="0.9" stroke-linecap="butt"/>
<text x="160.9" y="562.25" font-size="8.3" text-anchor="end" textLength="11.9" lengthAdjust="spacingAndGlyphs" fill="#111">100</text>
<line x1="163.50" y1="582.82" x2="167.00" y2="582.82" stroke="#000" stroke-width="0.9" stroke-linecap="butt"/>
<text x="160.9" y="585.72" font-size="8.3" text-anchor="end" textLength="7.9" lengthAdjust="spacingAndGlyphs" fill="#111">80</text>
<line x1="163.50" y1="606.29" x2="167.00" y2="606.29" stroke="#000" stroke-width="0.9" stroke-linecap="butt"/>
<text x="160.9" y="609.19" font-size="8.3" text-anchor="end" textLength="7.9" lengthAdjust="spacingAndGlyphs" fill="#111">60</text>
<line x1="163.50" y1="629.76" x2="167.00" y2="629.76" stroke="#000" stroke-width="0.9" stroke-linecap="butt"/>
<text x="160.9" y="632.66" font-size="8.3" text-anchor="end" textLength="7.9" lengthAdjust="spacingAndGlyphs" fill="#111">40</text>
<line x1="163.50" y1="653.23" x2="167.00" y2="653.23" stroke="#000" stroke-width="0.9" stroke-linecap="butt"/>
<text x="160.9" y="656.13" font-size="8.3" text-anchor="end" textLength="7.9" lengthAdjust="spacingAndGlyphs" fill="#111">20</text>
<line x1="163.50" y1="676.70" x2="167.00" y2="676.70" stroke="#000" stroke-width="0.9" stroke-linecap="butt"/>
<text x="160.9" y="679.6" font-size="8.3" text-anchor="end" fill="#111">0</text>
<text x="225.6" y="551.7" font-size="8.3" text-anchor="middle" textLength="50" lengthAdjust="spacingAndGlyphs" fill="#111">Young Chronic</text>
<text x="141.6" y="688.4" font-size="9.8" fill="#111" textLength="42.2" lengthAdjust="spacingAndGlyphs" transform="rotate(-90 141.6 688.4)">Frequency</text>
<text x="141.6" y="643.6" font-size="9.8" fill="#111" textLength="6.0" lengthAdjust="spacingAndGlyphs" transform="rotate(-90 141.6 643.6)">in</text>
<text x="141.6" y="633.3" font-size="9.8" fill="#111" textLength="28.3" lengthAdjust="spacingAndGlyphs" transform="rotate(-90 141.6 633.3)">CD45.2</text>
<text x="141.6" y="597.1" font-size="9.8" fill="#111" textLength="12.5" lengthAdjust="spacingAndGlyphs" transform="rotate(-90 141.6 597.1)">MP</text>
<text x="141.6" y="582.5" font-size="9.8" fill="#111" textLength="6.9" lengthAdjust="spacingAndGlyphs" transform="rotate(-90 141.6 582.5)">in</text>
<text x="141.6" y="573.9" font-size="9.8" fill="#111" textLength="14.2" lengthAdjust="spacingAndGlyphs" transform="rotate(-90 141.6 573.9)">BM</text>
<text x="141.6" y="556.7" font-size="9.8" fill="#111" textLength="12.8" lengthAdjust="spacingAndGlyphs" transform="rotate(-90 141.6 556.7)">(%)</text>
<text x="137.6" y="603.8" font-size="4.6" fill="#222" style="stroke-width:0.05px" transform="rotate(-90 137.6 603.8)">+</text>
<text x="186.75" y="689.2" font-size="8.3" text-anchor="middle" textLength="16.0" lengthAdjust="spacingAndGlyphs" fill="#111">CMP</text>
<text x="225.4" y="689.2" font-size="8.3" text-anchor="middle" textLength="16.6" lengthAdjust="spacingAndGlyphs" fill="#111">GMP</text>
<text x="264.0" y="689.2" font-size="8.3" text-anchor="middle" textLength="15.0" lengthAdjust="spacingAndGlyphs" fill="#111">MEP</text>
<polyline points="215.00,600.80 215.00,587.00 225.50,587.00 225.50,589.50" fill="none" stroke="#000" stroke-width="0.9" stroke-linejoin="miter"/>
<circle cx="217.30" cy="583.60" r="1.08" fill="#1a1a1a"/>
<circle cx="220.60" cy="583.60" r="1.08" fill="#1a1a1a"/>
<circle cx="223.90" cy="583.60" r="1.08" fill="#1a1a1a"/>
<polyline points="253.25,655.30 253.25,651.50 263.75,651.50 263.75,665.30" fill="none" stroke="#000" stroke-width="0.9" stroke-linejoin="miter"/>
<circle cx="258.75" cy="648.40" r="1.08" fill="#1a1a1a"/>
<rect x="298.25" y="591.00" width="16.75" height="6.00" fill="#000"/>
<rect x="298.25" y="605.60" width="16.75" height="6.00" fill="#21959d"/>
<rect x="298.25" y="619.80" width="16.75" height="6.20" fill="#98285f"/>
<text x="318.25" y="596.5" font-size="8.3" textLength="16.2" lengthAdjust="spacingAndGlyphs" fill="#111">CTRL</text>
<text x="318.25" y="610.8" font-size="8.3" fill="#111" textLength="12.8" lengthAdjust="spacingAndGlyphs">Wt1</text>
<text x="331.45" y="607.8" font-size="4.9" fill="#222" style="stroke-width:0.08px" textLength="7.94" lengthAdjust="spacingAndGlyphs">fl/+</text>
<text x="318.25" y="625.3" font-size="8.3" fill="#111" textLength="12.8" lengthAdjust="spacingAndGlyphs">Wt1</text>
<text x="331.45" y="622.3" font-size="4.9" fill="#222" style="stroke-width:0.08px" textLength="8.45" lengthAdjust="spacingAndGlyphs">fl/fl</text>
</svg>
<div class="bd" style="left:0;top:0;width:520px;height:1.2px"></div>
<div class="bd" style="left:0;top:0;width:1.2px;height:699px"></div>
<div class="bd" style="left:518.3px;top:0;width:1.7px;height:699px"></div>
<div class="bd" style="left:0;top:696.8px;width:520px;height:2.2px"></div>
</body></html>
